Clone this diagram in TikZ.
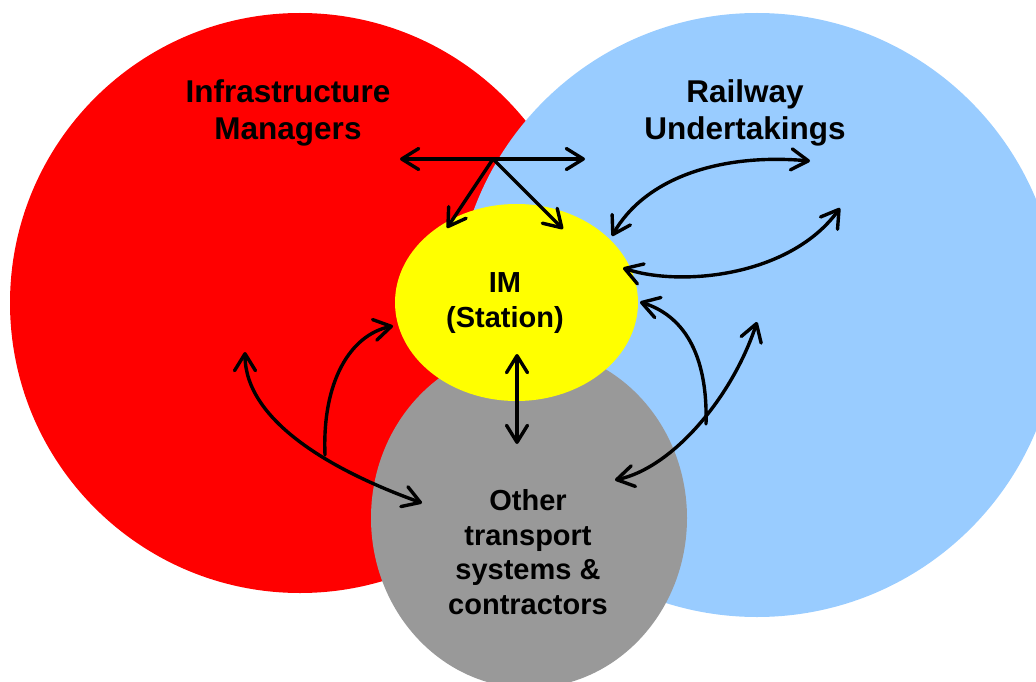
\documentclass[tikz,border=0pt]{standalone}
\usepackage{fontspec}
\setmainfont{Liberation Sans}
\usetikzlibrary{shapes.geometric,arrows.meta}
\begin{document}
\begin{tikzpicture}[x=1pt,y=-1pt,
  blob/.style={ellipse,inner sep=0pt,draw=none},
  conn/.style={line width=3.4pt,line cap=round,
    {Straight Barb[length=17pt,width=21pt,round]}-{Straight Barb[length=17pt,width=21pt,round]}},
  oneway/.style={line width=3.4pt,line cap=round,
    -{Straight Barb[length=17pt,width=21pt,round]}},
  toplabel/.style={font=\bfseries\fontsize{31.5}{37}\selectfont,align=center,inner sep=0pt},
  midlabel/.style={font=\bfseries\fontsize{29}{34.5}\selectfont,align=center,inner sep=0pt}]
\useasboundingbox (0,0) rectangle (1036,682);
\begin{scope}
\clip (0,0) rectangle (1036,682);
\node[blob,fill={rgb,255:red,255;green,0;blue,0},minimum width=580pt,minimum height=580pt] (im) at (300,303) {};
\node[blob,fill={rgb,255:red,153;green,204;blue,255},minimum width=604pt,minimum height=604pt] (ru) at (757,315) {};
\node[blob,fill={rgb,255:red,153;green,153;blue,153},minimum width=316pt,minimum height=340pt] (ot) at (529,518) {};
\node[blob,fill={rgb,255:red,255;green,255;blue,0},minimum width=243pt,minimum height=197pt] (st) at (516.5,302.5) {};
\end{scope}

\node[toplabel] (imlabel) at (288,113) {Infrastructure\\Managers};
\node[toplabel] (rulabel) at (745,113) {Railway\\Undertakings};
\node[midlabel] (stlabel) at (505,303) {IM\\(Station)};
\node[midlabel] (otlabel) at (528,552) {Other\\transport\\systems \&\\contractors};

% top cluster
\coordinate (hl) at (400,159);
\coordinate (hr) at (585,159);
\coordinate (j1) at (493,159);
\coordinate (d1) at (447,228);
\coordinate (d2) at (563,229);
\draw[conn] (hl) -- (hr);
\draw[oneway] (j1) -- (d1);
\draw[oneway] (j1) -- (d2);

% upper right arcs
\coordinate (u1) at (612,236);
\coordinate (u2) at (810,161);
\draw[conn] (u1) .. controls (645,178) and (720,153) .. (u2);
\coordinate (l1) at (623,268);
\coordinate (l2) at (840,208);
\draw[conn] (l1) .. controls (680,287) and (790,277) .. (l2);

% lower right
\coordinate (r1) at (615,480);
\coordinate (r2) at (757,322);
\coordinate (rj) at (706,424);
\coordinate (ry) at (640,302);
\draw[conn] (r1) .. controls (672,468) and (732,398) .. (r2);
\draw[oneway] (rj) .. controls (708,352) and (682,315) .. (ry);

% left
\coordinate (a1) at (245,352);
\coordinate (a2) at (422,503);
\coordinate (lj) at (325,455);
\coordinate (ly) at (393,326);
\draw[conn] (a1) .. controls (245,420) and (330,470) .. (a2);
\draw[oneway] (lj) .. controls (322,382) and (350,335) .. (ly);

% vertical
\coordinate (v1) at (517,354);
\coordinate (v2) at (517,444);
\draw[conn] (v1) -- (v2);
\end{tikzpicture}
\end{document}
